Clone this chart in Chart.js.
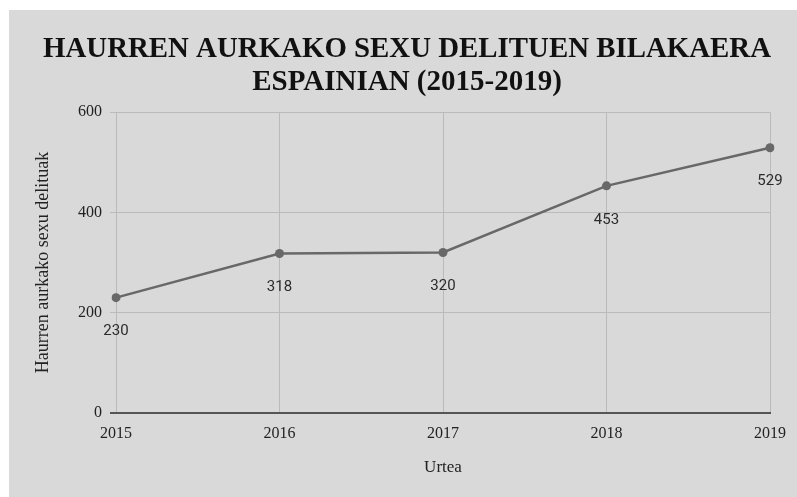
<!DOCTYPE html>
<html>
<head>
<meta charset="utf-8">
<script src="https://cdn.jsdelivr.net/npm/chart.js@4/dist/chart.umd.min.js"></script>
<style>
  body { margin: 0; background: #ffffff; }
  #wrap { position: absolute; left: 9px; top: 10px; width: 788px; height: 487px; background: #d9d9d9; }
</style>
</head>
<body>
<div id="wrap"><canvas id="crimeChart" width="788" height="487"></canvas></div>
<script>
// Chart data //
const years = ["2015", "2016", "2017", "2018", "2019"];
const crimes = [230, 318, 320, 453, 529];
const yTicks = [0, 200, 400, 600];
const titleLines = ["HAURREN AURKAKO SEXU DELITUEN BILAKAERA", "ESPAINIAN (2015-2019)"];
const yTitle = "Haurren aurkako sexu delituak";
const xTitle = "Urtea";

// value labels under each point //
const pointLabels = {
  id: "pointLabels",
  afterDatasetsDraw(chart) {
    const ctx = chart.ctx;
    const meta = chart.getDatasetMeta(0);
    ctx.save();
    ctx.font = "15px Roboto";
    ctx.fillStyle = "#2b2b2b";
    ctx.textAlign = "center";
    ctx.textBaseline = "middle";
    meta.data.forEach((pt, i) => {
      ctx.fillText(String(crimes[i]), pt.x, pt.y + 34);
    });
    ctx.restore();
  },
};

const ctx = document.getElementById("crimeChart").getContext("2d");
const crimeChart = new Chart(ctx, {
  type: "line",
  data: {
    labels: years,
    datasets: [
      {
        data: crimes,
        borderColor: "#686868",
        backgroundColor: "#686868",
        borderWidth: 2.5,
        pointRadius: 4.5,
        pointBackgroundColor: "#686868",
        pointBorderWidth: 0,
        tension: 0,
      },
    ],
  },
  options: {
    responsive: false,
    animation: false,
    layout: { padding: { left: 34, right: 26, top: 0, bottom: 0 } },
    plugins: {
      legend: { display: false },
      tooltip: { enabled: false },
      title: {
        display: true,
        text: titleLines,
        color: "#111111",
        font: { family: "Liberation Serif", size: 29, weight: "bold", lineHeight: 1.14 },
        padding: { top: 23, bottom: 13 },
      },
    },
    scales: {
      x: {
        grid: { color: "#bababa", lineWidth: 1, drawTicks: false },
        border: { display: true, color: "#555555", width: 2 },
        ticks: { color: "#222222", padding: 11, font: { family: "Liberation Serif", size: 16 } },
        title: {
          display: true,
          text: xTitle,
          color: "#222222",
          font: { family: "Liberation Serif", size: 17 },
          padding: { top: 19, bottom: 19 },
        },
        afterFit: (scale) => { scale.height = 84; },
      },
      y: {
        min: 0,
        max: 600,
        afterBuildTicks: (scale) => { scale.ticks = yTicks.map((v) => ({ value: v })); },
        grid: {
          color: (c) => (c.tick && c.tick.value === 0 ? "#555555" : "#bababa"),
          lineWidth: (c) => (c.tick && c.tick.value === 0 ? 2 : 1),
          tickLength: 6,
        },
        border: { display: false },
        ticks: { color: "#222222", padding: 8, font: { family: "Liberation Serif", size: 16 } },
        title: {
          display: true,
          text: yTitle,
          color: "#222222",
          font: { family: "Liberation Serif", size: 18 },
          padding: { top: -11, bottom: 0 },
        },
        afterFit: (scale) => { scale.width = 73; },
      },
    },
  },
  plugins: [pointLabels],
});
</script>
</body>
</html>
